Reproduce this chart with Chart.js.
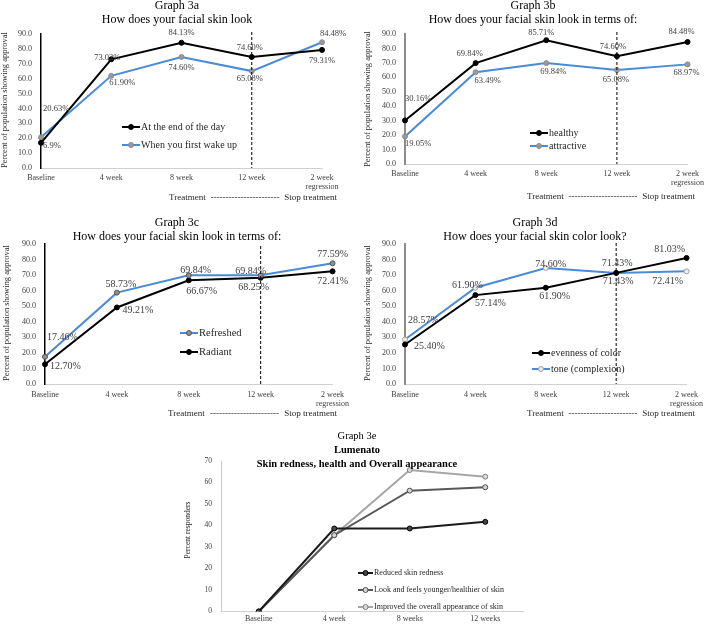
<!DOCTYPE html>
<html>
<head>
<meta charset="utf-8">
<script src="https://cdn.jsdelivr.net/npm/chart.js@4.4.1/dist/chart.umd.min.js"></script>
<style>
  html, body { margin: 0; padding: 0; background: #fff; }
  #wrap { position: relative; width: 709px; height: 625px; overflow: hidden; }
  canvas { position: absolute; }
</style>
</head>
<body>
<div id="wrap">
  <canvas id="cA"></canvas>
  <canvas id="cB"></canvas>
  <canvas id="cC"></canvas>
  <canvas id="cD"></canvas>
  <canvas id="cE"></canvas>
</div>
<script>
// ---- data ----
const weeks = ['Baseline', '4 week', '8 week', '12 week', ['2 week', 'regression']];
const weeksE = ['Baseline', '4 week', '8 weeks', '12 weeks'];

// graph 3a
const endOfDay = [16.9, 73.02, 84.13, 74.60, 79.31];
const endOfDayLabels = ['6.9%', '73.02%', '84.13%', '74.60%', '79.31%'];
const wakeUp = [20.63, 61.90, 74.60, 65.08, 84.48];
// graph 3b
const healthy = [30.16, 69.84, 85.71, 74.60, 84.48];
const attractive = [19.05, 63.49, 69.84, 65.08, 68.97];
// graph 3c
const refreshed = [17.46, 58.73, 69.84, 69.84, 77.59];
const radiant = [12.70, 49.21, 66.67, 68.25, 72.41];
// graph 3d
const evenness = [25.40, 57.14, 61.90, 71.43, 81.03];
const tone = [28.57, 61.90, 74.60, 71.43, 72.41];
// graph 3e
const redness = [0, 38.6, 38.6, 41.7];
const younger = [0, 35.5, 56.2, 57.8];
const overall = [0, 35.5, 65.8, 62.7];

const SERIF = "'Liberation Serif', 'Times New Roman', serif";
const BLUE = '#4a8ad8';
const pct = v => v.toFixed(2) + '%';

// draws titles, axis title, data labels, legend and the dashed line
const decor = {
  id: 'decor',
  afterDatasetsDraw(chart, args, o) {
    const ctx = chart.ctx;
    const bx = o.box[0], by = o.box[1];
    ctx.save();
    ctx.translate(-bx, -by);

    if (o.dashAt != null) {
      const meta = chart.getDatasetMeta(0);
      const px = meta.data[o.dashAt].x + bx;
      ctx.beginPath();
      ctx.setLineDash([3, 2]);
      ctx.strokeStyle = '#000';
      ctx.lineWidth = 1;
      ctx.moveTo(px, o.dashTop);
      ctx.lineTo(px, chart.chartArea.bottom + by);
      ctx.stroke();
      ctx.setLineDash([]);
    }

    // data labels
    ctx.textBaseline = 'middle';
    ctx.fillStyle = '#404040';
    ctx.font = o.labelSize + 'px ' + SERIF;
    (o.labels || []).forEach((lab, i) => {
      const meta = chart.getDatasetMeta(i);
      const ds = chart.data.datasets[i];
      meta.data.forEach((pt, j) => {
        const off = lab.offsets[j];
        const txt = lab.texts ? lab.texts[j] : pct(ds.data[j]);
        ctx.textAlign = off[2];
        ctx.fillText(txt, pt.x + bx + off[0], pt.y + by + off[1]);
      });
    });

    // legend
    if (o.legend) {
      const lg = o.legend;
      ctx.font = lg.size + 'px ' + SERIF;
      ctx.textAlign = 'left';
      lg.items.forEach((di, k) => {
        const ds = chart.data.datasets[di];
        const y = lg.y[k];
        ctx.beginPath();
        ctx.strokeStyle = ds.borderColor;
        ctx.lineWidth = 2;
        ctx.moveTo(lg.x, y);
        ctx.lineTo(lg.x + lg.len, y);
        ctx.stroke();
        ctx.beginPath();
        ctx.arc(lg.x + lg.len / 2, y, ds.pointRadius, 0, Math.PI * 2);
        ctx.fillStyle = ds.pointBackgroundColor;
        ctx.fill();
        ctx.lineWidth = 1;
        ctx.strokeStyle = ds.pointBorderColor;
        ctx.stroke();
        ctx.fillStyle = '#262626';
        ctx.fillText(ds.label, lg.x + lg.len + 1, y);
      });
    }

    // titles
    ctx.fillStyle = '#000';
    ctx.textAlign = 'center';
    o.titles.forEach(t => {
      ctx.font = (t[4] || '') + ' ' + t[3] + 'px ' + SERIF;
      ctx.fillText(t[0], t[1], t[2]);
    });

    // footer: Treatment ------ Stop treatment
    if (o.footer) {
      const [x0, x1, fy] = o.footer;
      ctx.font = '9px ' + SERIF;
      ctx.fillStyle = '#262626';
      ctx.textAlign = 'left';
      ctx.fillText('Treatment', x0, fy);
      ctx.textAlign = 'right';
      ctx.fillText('Stop treatment', x1, fy);
      const a = x0 + ctx.measureText('Treatment').width + 4;
      const b = x1 - ctx.measureText('Stop treatment').width - 4;
      let dashes = '';
      while (ctx.measureText(dashes + '-').width <= b - a) dashes += '-';
      ctx.textAlign = 'center';
      ctx.fillText(dashes, (a + b) / 2, fy);
    }

    // y axis title
    ctx.save();
    ctx.translate(o.yTitle[1], o.yTitle[2]);
    ctx.rotate(-Math.PI / 2);
    ctx.textAlign = 'center';
    ctx.fillStyle = '#262626';
    ctx.font = o.yTitle[3] + 'px ' + SERIF;
    ctx.fillText(o.yTitle[0], 0, 0);
    ctx.restore();

    ctx.restore();
  }
};

function series(label, data, line, fill, border) {
  return {
    label: label, data: data, borderColor: line, borderWidth: 2,
    pointRadius: 2.5, pointBackgroundColor: fill, pointBorderColor: border,
    pointBorderWidth: 1, tension: 0
  };
}

function panel(id, box, area, cats, sets, ax, deco) {
  const [bx, by, bw, bh] = box;
  const [L, T, R, B] = area;
  const cv = document.getElementById(id);
  cv.width = bw; cv.height = bh;
  cv.style.left = bx + 'px'; cv.style.top = by + 'px';
  deco.box = box;
  return new Chart(cv, {
    type: 'line',
    data: { labels: cats, datasets: sets },
    options: {
      responsive: false,
      animation: false,
      layout: { padding: { left: 0, top: T - by, right: bx + bw - R, bottom: 0 } },
      plugins: { legend: { display: false }, tooltip: { enabled: false }, decor: deco },
      scales: {
        x: {
          offset: ax.offset,
          grid: { display: false, drawTicks: false },
          border: { color: '#d0d0d0', width: 1 },
          ticks: { autoSkip: false, maxRotation: 0, padding: ax.xPad, color: '#404040',
                   font: { family: SERIF, size: 8, lineHeight: 1.15 } },
          afterFit: s => { s.height = by + bh - B; }
        },
        y: {
          min: 0, max: ax.max,
          grid: { display: false, drawTicks: false },
          border: { color: ax.axisColor, width: ax.axisWidth },
          ticks: { stepSize: 10, padding: ax.yPad, color: '#404040',
                   font: { family: SERIF, size: ax.yFont }, callback: ax.fmt },
          afterFit: s => { s.width = L - bx; }
        }
      }
    },
    plugins: [decor]
  });
}

const oneDec = v => v.toFixed(1);

// Graph 3a
panel('cA', [0, 0, 355, 210], [41, 34, 322, 168], weeks, [
  series('At the end of the day', endOfDay, '#000', '#000', '#000'),
  series('When you first wake up', wakeUp, BLUE, '#9a9a9a', '#8a8a8a')
], { offset: false, max: 90, fmt: oneDec, axisColor: '#000', axisWidth: 1.5, xPad: 5, yPad: 9, yFont: 8 }, {
  dashAt: 3, dashTop: 32, labelSize: 8.5,
  labels: [
    { texts: endOfDayLabels, offsets: [[2, 3, 'left'], [-4, -2, 'center'], [0, -10, 'center'], [-2, -9, 'center'], [0, 11, 'center']] },
    { offsets: [[2, -29, 'left'], [11, 7, 'center'], [0, 11, 'center'], [-2, 8, 'center'], [11, -8, 'center']] }
  ],
  legend: { x: 122, y: [127, 145], len: 18, size: 10, items: [0, 1] },
  titles: [['Graph 3a', 177, 6, 12], ['How does your facial skin look', 177, 20, 12]],
  footer: [169, 337, 198],
  yTitle: ['Percent of population showing approval', 5, 100, 8.5]
});

// Graph 3b
panel('cB', [355, 0, 354, 210], [405, 34, 693, 164], weeks, [
  series('healthy', healthy, '#000', '#000', '#000'),
  series('attractive', attractive, BLUE, '#9a9a9a', '#8a8a8a')
], { offset: false, max: 90, fmt: oneDec, axisColor: '#8c8c8c', axisWidth: 2, xPad: 5, yPad: 9, yFont: 8 }, {
  dashAt: 3, dashTop: 32, labelSize: 8.5,
  labels: [
    { offsets: [[0, -22, 'left'], [-6, -9, 'center'], [-5, -7, 'center'], [-4, -9, 'center'], [-6, -10, 'center']] },
    { offsets: [[0, 7, 'left'], [12, 8, 'center'], [7, 9, 'center'], [-1, 10, 'center'], [-1, 8, 'center']] }
  ],
  legend: { x: 530, y: [133, 146], len: 18, size: 10, items: [0, 1] },
  titles: [['Graph 3b', 533, 6, 12], ['How does your facial skin look in terms of:', 533, 20, 12]],
  footer: [527, 695, 197],
  yTitle: ['Percent of population showing approval', 368, 99, 8.5]
});

// Graph 3c
panel('cC', [0, 210, 355, 210], [45, 244, 333, 384], weeks, [
  series('Refreshed', refreshed, BLUE, '#8f8f8f', '#555'),
  series('Radiant', radiant, '#000', '#000', '#000')
], { offset: false, max: 90, fmt: oneDec, axisColor: '#000', axisWidth: 1.5, xPad: 6, yPad: 9, yFont: 8 }, {
  dashAt: 3, dashTop: 246, labelSize: 10,
  labels: [
    { offsets: [[2, -19, 'left'], [4, -8, 'center'], [7, -5, 'center'], [-10, -4, 'center'], [0, -9, 'center']] },
    { offsets: [[5, 2, 'left'], [21, 3, 'center'], [13, 11, 'center'], [-7, 10, 'center'], [0, 10, 'center']] }
  ],
  legend: { x: 180, y: [333, 352], len: 18, size: 10.5, items: [0, 1] },
  titles: [['Graph 3c', 177, 223, 12], ['How does your facial skin look in terms of:', 177, 237, 12]],
  footer: [168, 337, 414],
  yTitle: ['Percent of population showing approval', 7, 313, 8.5]
});

// Graph 3d
panel('cD', [355, 210, 354, 210], [405, 244, 692, 384], weeks, [
  series('evenness of color', evenness, '#000', '#000', '#000'),
  series('tone (complexion)', tone, BLUE, '#ededed', '#a0a0a0')
], { offset: false, max: 90, fmt: oneDec, axisColor: '#8c8c8c', axisWidth: 2, xPad: 6, yPad: 9, yFont: 8 }, {
  dashAt: 3, dashTop: 243, labelSize: 10,
  labels: [
    { offsets: [[9, 2, 'left'], [15, 8, 'center'], [9, 9, 'center'], [2, 8, 'center'], [-17, -9, 'center']] },
    { offsets: [[3, -19, 'left'], [-8, -2, 'center'], [5, -4, 'center'], [1, -10, 'center'], [-19, 10, 'center']] }
  ],
  legend: { x: 532, y: [353, 369], len: 18, size: 10, items: [0, 1] },
  titles: [['Graph 3d', 535, 223, 12], ['How does your facial skin color look?', 535, 237, 12]],
  footer: [527, 695, 414],
  yTitle: ['Percent of population showing approval', 368, 313, 8.5]
});

// Graph 3e
panel('cE', [170, 420, 380, 205], [221, 461, 523, 612], weeksE, [
  series('Reduced skin redness', redness, '#1a1a1a', '#474747', '#000'),
  series('Look and feels younger/healthier of skin', younger, '#595959', '#d4d4d4', '#4d4d4d'),
  series('Improved the overall appearance of skin', overall, '#a6a6a6', '#d9d9d9', '#7f7f7f')
], { offset: true, max: 70, fmt: v => v, axisColor: '#c8c8c8', axisWidth: 1, xPad: 3, yPad: 9, yFont: 7.5 }, {
  labelSize: 8,
  legend: { x: 358, y: [573, 590, 607], len: 15, size: 8, items: [0, 1, 2] },
  titles: [['Graph 3e', 357, 436, 10.5], ['Lumenato', 357, 450, 10.5, 'bold'],
           ['Skin redness, health and Overall appearance', 357, 464, 10.5, 'bold']],
  yTitle: ['Percent responders', 188, 530, 7.5]
});
</script>
</body>
</html>
